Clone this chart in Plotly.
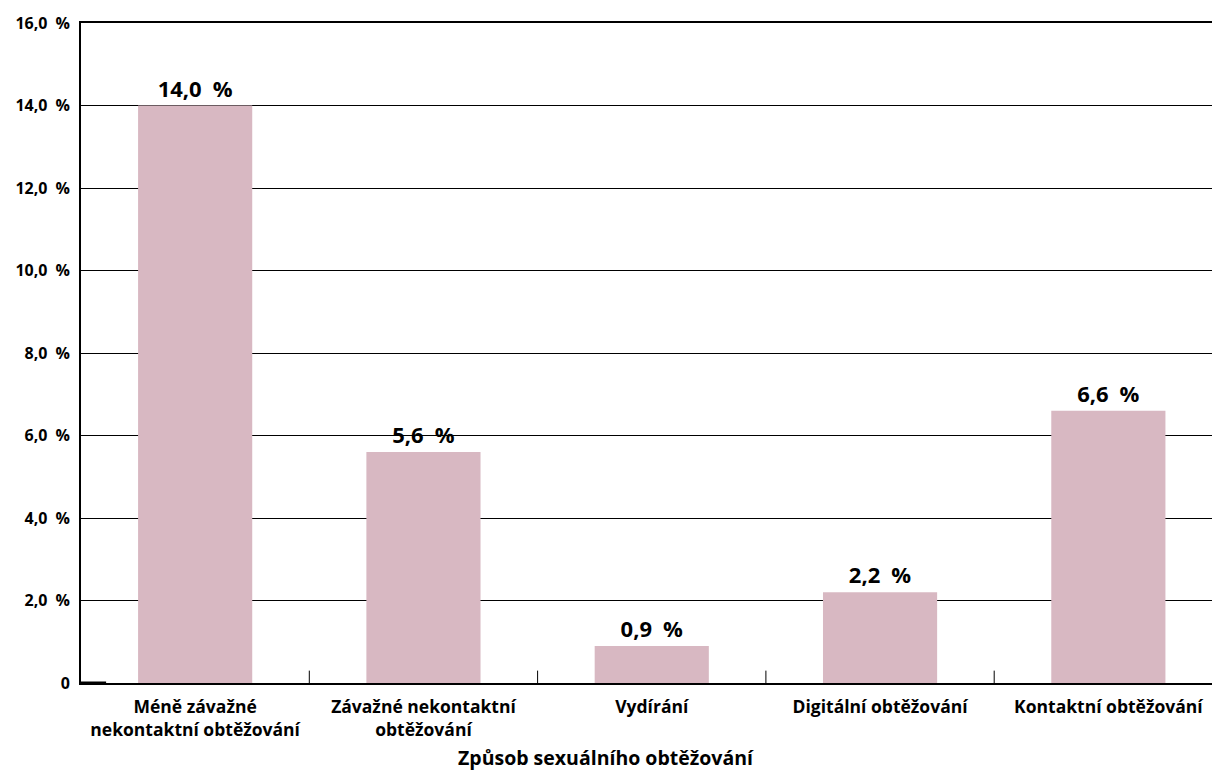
import plotly.graph_objects as go

# Shares of respondents by type of sexual harassment (%)
categories = [
    "Méně závažné<br>nekontaktní obtěžování",
    "Závažné nekontaktní<br>obtěžování",
    "Vydírání",
    "Digitální obtěžování",
    "Kontaktní obtěžování",
]
values = [14.0, 5.6, 0.9, 2.2, 6.6]
y_ticks = [0, 2, 4, 6, 8, 10, 12, 14, 16]
y_tick_labels = ["0", "2,0\u2002%", "4,0\u2002%", "6,0\u2002%", "8,0\u2002%",
                 "10,0\u2002%", "12,0\u2002%", "14,0\u2002%", "16,0\u2002%"]
x_title = "Způsob sexuálního obtěžování"

FONT = "Open Sans"
BAR_COLOR = "#d8b8c2"

labels = [f"{v:.1f}".replace(".", ",") + "\u2002%" for v in values]

fig = go.Figure(
    go.Bar(
        x=list(range(len(categories))),
        y=values,
        width=0.5,
        marker=dict(color=BAR_COLOR, line=dict(width=0)),
        text=labels,
        textposition="outside",
        cliponaxis=False,
        textfont=dict(family=FONT, size=22, color="black", weight="bold"),
    )
)

fig.update_layout(
    width=1212,
    height=772,
    margin=dict(l=81, r=0, t=23, b=89),
    paper_bgcolor="white",
    plot_bgcolor="white",
    showlegend=False,
    font=dict(family=FONT, color="black"),
    xaxis=dict(
        tickmode="array",
        tickvals=list(range(len(categories))),
        ticktext=categories,
        range=[-0.5, 4.454],
        showline=True,
        linecolor="black",
        linewidth=2,
        mirror=True,
        showgrid=False,
        zeroline=False,
        ticks="",
        ticklabelstandoff=7,
        tickfont=dict(family=FONT, size=17.5, color="black", weight="bold"),
    ),
    yaxis=dict(
        range=[0, 16],
        tickmode="array",
        tickvals=y_ticks,
        ticktext=y_tick_labels,
        showline=True,
        linecolor="black",
        linewidth=2,
        showgrid=True,
        gridcolor="black",
        gridwidth=1,
        zeroline=False,
        ticks="",
        ticklabelstandoff=6,
        tickfont=dict(family=FONT, size=16, color="black", weight="bold"),
    ),
)

# Axis title centred on the page
fig.add_annotation(
    text=x_title,
    xref="paper", yref="paper",
    x=0.464, y=-0.1136,
    xanchor="center", yanchor="middle",
    showarrow=False,
    font=dict(family=FONT, size=19.5, color="black", weight="bold"),
)

# Category separators: short upward ticks on the baseline between bars
for b in [0.5, 1.5, 2.5, 3.5]:
    fig.add_shape(
        type="line", xref="x", yref="y",
        x0=b, x1=b, y0=0, y1=0.3,
        line=dict(color="black", width=1),
    )

# Heavier stub of the baseline next to the value axis
fig.add_shape(
    type="line", xref="x", yref="y",
    x0=-0.5, x1=-0.39, y0=0, y1=0,
    line=dict(color="black", width=3),
)

fig.write_html("out.html")
